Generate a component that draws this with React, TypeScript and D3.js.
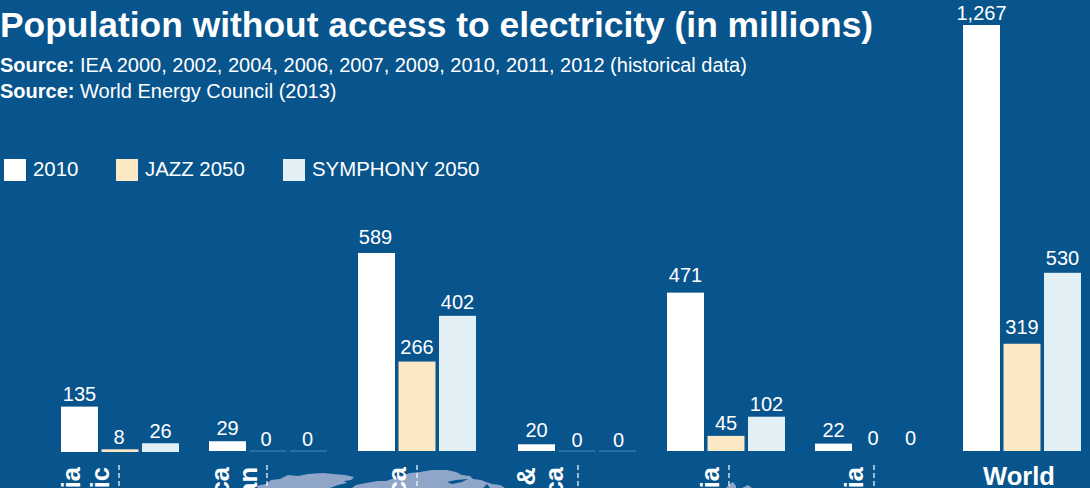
import React from "react";
import * as d3 from "d3";

const regionLines = [
  ["Southeast Asia", "& Pacific"],
  ["Latin America", "& Caribbean"],
  ["Sub-Saharan Africa"],
  ["Middle East &", "North Africa"],
  ["South & Central Asia"],
  ["East Asia"],
];
const values2010 = [135, 29, 589, 20, 471, 22];
const jazz2050 = [8, 0, 266, 0, 45, 0];
const symphony2050 = [26, 0, 402, 0, 102, 0];
const worldValues = [1267, 319, 530];
const seriesNames = ["2010", "JAZZ 2050", "SYMPHONY 2050"];
const seriesColors = ["#ffffff", "#fbe9c6", "#e2f0f6"];

// Layout of the groups and their rotated captions
const groupLeft = [61, 209, 358, 518, 667, 815];
const groupDrop = [1, 0, 0, 0, 0, 0];
const captionBaselines = [[80, 109], [229, 257], [406], [535, 563], [719], [863]];
const dividers = [119, 267, 417, 578, 729, 874];
const legendLeft = [4, 116, 283];

// Hand-set offsets of the value labels, per group and series
const labelDy = [[1, 2, 2], [0, 1, 1], [-3, -2, -1], [-1, 2, 2], [-5, 0, 0], [-1, 0, 0]];
const labelDx = [[0, -1, 0], [0, -2, -1], [-1, 0, 0], [0, 0, 1], [0, 0, 0], [0, -1, -4]];
const worldDy = [1, -4, -2];

// Map silhouette peeking out along the bottom edge
const landWest: [number, number][] = [
  [258, 488], [256, 486], [266, 484], [271, 480], [280, 479], [288, 475], [298, 476], [308, 474], [323, 473],
  [333, 474], [345, 475], [354, 477], [351, 480], [344, 481], [347, 483], [338, 485], [330, 488],
];
const landEast: [number, number][] = [
  [352, 488], [356, 485], [366, 483], [378, 481], [386, 481], [398, 477], [410, 473], [420, 472], [432, 470],
  [447, 470], [456, 472], [462, 475], [470, 476], [473, 479], [481, 480], [486, 482], [492, 484], [500, 485],
  [505, 488],
];
const landInlets: [number, number][][] = [
  [[447, 482], [456, 480], [468, 479], [462, 482], [452, 484]],
  [[483, 488], [487, 484], [490, 488]],
];
const landSpecks: [number, number][][] = [
  [[726, 488], [730, 484], [733, 482], [736, 486], [736, 488]],
  [[742, 488], [748, 485], [752, 488]],
];

const BG = "#08548c";
const LAND = "#8fa6c9";
const FONT = "Liberation Sans, Arial, sans-serif";

const y = d3.scaleLinear().domain([0, 1267]).range([451, 25]);
const fmt = d3.format(",");
const landPath = d3.line().curve(d3.curveLinear);

export default function App() {
  const bars = (vals: number[], x0: number, key: string, dy: number[], dx: number[], drop: number, zeroRule: boolean) =>
    vals.map((v, i) => {
      const bx = x0 + i * 40.5;
      return (
        <g key={key + i}>
          {v > 0 ? (
            <rect x={bx} y={y(v) + drop} width={37} height={y(0) - y(v)} fill={seriesColors[i]} />
          ) : zeroRule ? (
            <rect x={bx} y={450.6} width={37} height={0.8} fill="#5f93b8" />
          ) : null}
          <text x={bx + 18.5 + dx[i]} y={y(v) - 6 + dy[i]} textAnchor="middle" fontSize={20} fill="#fff">{fmt(v)}</text>
        </g>
      );
    });

  return (
    <svg width={1090} height={488} style={{ position: "absolute", left: 0, top: 0, background: BG, fontFamily: FONT }}>
      {[landWest, landEast, ...landSpecks].map((pts, i) => (
        <path key={i} d={landPath(pts) + "Z"} fill={LAND} />
      ))}
      {landInlets.map((pts, i) => (
        <path key={i} d={landPath(pts) + "Z"} fill={BG} />
      ))}
      <text x={0} y={37} fontSize={35.4} fontWeight={700} fill="#fff">Population without access to electricity (in millions)</text>
      <text x={0} y={72} fontSize={20} fill="#fff"><tspan fontWeight={700}>Source:</tspan> IEA 2000, 2002, 2004, 2006, 2007, 2009, 2010, 2011, 2012 (historical data)</text>
      <text x={0} y={98} fontSize={20} fill="#fff"><tspan fontWeight={700}>Source:</tspan> World Energy Council (2013)</text>
      {seriesNames.map((n, i) => (
        <g key={n}>
          <rect x={legendLeft[i]} y={159} width={22} height={22} fill={seriesColors[i]} />
          <text x={legendLeft[i] + 29} y={176} fontSize={20.4} fill="#fff">{n}</text>
        </g>
      ))}
      {regionLines.map((lines, i) => (
        <g key={i}>
          {bars([values2010[i], jazz2050[i], symphony2050[i]], groupLeft[i], "r" + i, labelDy[i], labelDx[i], groupDrop[i], i !== 5)}
          {lines.map((t, j) => (
            <text key={t} transform={`translate(${captionBaselines[i][j]},467) rotate(-90)`} textAnchor="end" fontSize={25.5} fontWeight={700} fill="#fff">{t}</text>
          ))}
          <line x1={dividers[i]} x2={dividers[i]} y1={465} y2={488} stroke="#fff" strokeWidth={1.2} strokeDasharray="5 3" />
        </g>
      ))}
      {bars(worldValues, 963, "world", worldDy, [0, 0, 0], 0, false)}
      <text x={1019} y={485} textAnchor="middle" fontSize={25.5} fontWeight={700} fill="#fff">World</text>
    </svg>
  );
}
